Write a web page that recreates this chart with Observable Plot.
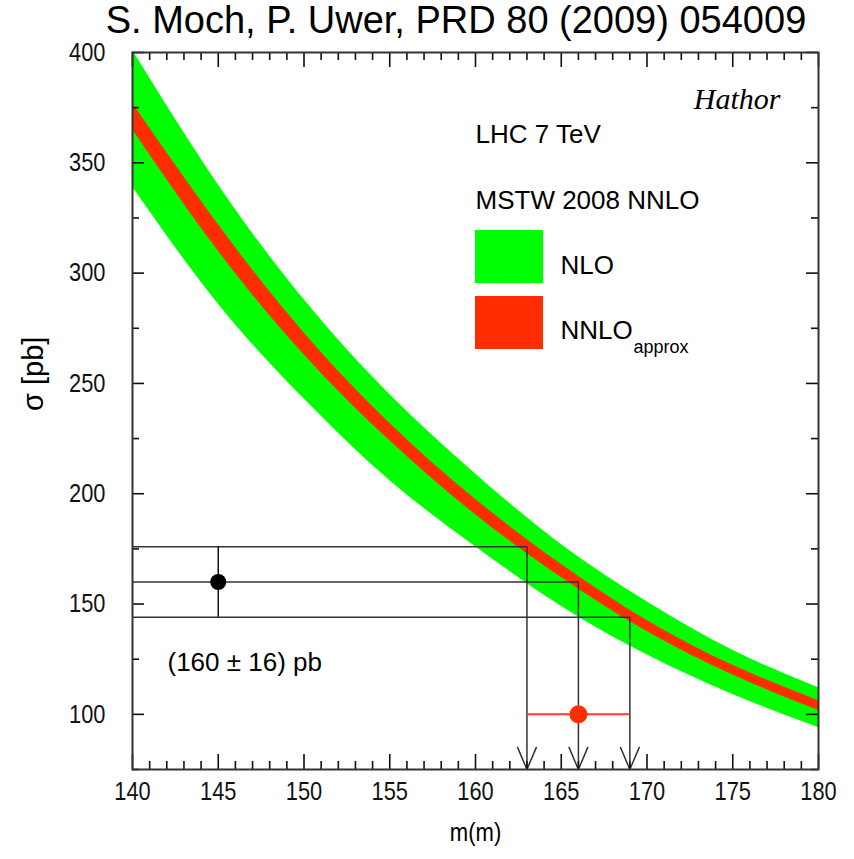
<!DOCTYPE html>
<html>
<head>
<meta charset="utf-8">
<script src="https://cdn.jsdelivr.net/npm/d3@7"></script>
<script src="https://cdn.jsdelivr.net/npm/@observablehq/plot@0.6"></script>
<style>
  html, body { margin: 0; padding: 0; background: #fff; }
  #title { width: 854px; box-sizing: border-box; padding-left: 58px; text-align: center; white-space: nowrap;
           font-family: "Liberation Sans", Arial, sans-serif; font-size: 38px; line-height: 40px; height: 36px; color: #000; }
  #chart svg { position: relative; }
</style>
</head>
<body>
<div id="title">S. Moch, P. Uwer, PRD 80 (2009) 054009</div>
<div id="chart"></div>
<script>
// ---- data ----
const mass      = [140, 145, 150, 155, 160, 165, 170, 175, 180];
const nnloMid   = [371, 316, 268, 228, 194, 165, 140, 120, 104];
const nnloLow   = [365, 310, 263, 224, 190.5, 162, 137.5, 117.8, 101.8];
const nnloHigh  = [377, 322, 273, 232, 197.5, 168, 142.5, 122.2, 106.2];
const nloLow    = [339, 286, 243, 206, 176, 149, 127, 109, 94];
const nloHigh   = [401, 340, 288, 245, 209, 177, 151, 129, 112];

const measSigma = 160, measErr = 16, measMass = 145;            // (160 ± 16) pb
const mtCentral = 166, mtLow = 163, mtHigh = 169, mtRowY = 100; // extracted mass
const xMajor = [140, 145, 150, 155, 160, 165, 170, 175, 180];
const yMajor = [100, 150, 200, 250, 300, 350, 400];
const yMinor = [75, 125, 175, 225, 275, 325, 375];
const legendLabels = ["NLO", "NNLO"];
const legendColors = ["#00ff00", "#ff2d00"];

// ---- derived tables ----
const rows = mass.map((m, i) => ({m, mid: nnloMid[i], nLo: nnloLow[i], nHi: nnloHigh[i], gLo: nloLow[i], gHi: nloHigh[i]}));
const xMinor = d3.range(140, 181, 1).filter(v => !xMajor.includes(v));
const crossings = [
  {m: mtLow,     s: measSigma + measErr},
  {m: mtCentral, s: measSigma},
  {m: mtHigh,    s: measSigma - measErr}
];

const xDom = [140, 180], yDom = [75, 400];
const W = 854, ML = 132, MR = 36, MT = 16, MB = 90, IH = 717, IW = W - ML - MR;
const H = MT + IH + MB;
const tickFont = "'Liberation Sans', Arial, sans-serif";
const textFont = "'Liberation Sans', Arial, sans-serif";
const lineCol = "#333";

// tick lengths (pixels) expressed in data units of the scales
const pxY = (yDom[1] - yDom[0]) / IH, pxX = (xDom[1] - xDom[0]) / IW;
const tickStyle = {stroke: "#111", strokeWidth: 1.6};
const xTicks = [
  ...xMajor.map(v => ({v, len: 15})),
  ...xMinor.map(v => ({v, len: 8}))
];
const yTicks = [
  ...yMajor.map(v => ({v, len: 12})),
  ...yMinor.map(v => ({v, len: 7}))
];

const legendBoxes = (index, scales, values, dims) => {
  const g = d3.create("svg:g");
  legendColors.forEach((c, i) => {
    g.append("rect")
      .attr("x", dims.marginLeft + 343).attr("y", dims.marginTop + 178 + i * 66)
      .attr("width", 68).attr("height", 53).attr("fill", c);
  });
  return g.node();
};

const chart = Plot.plot({
  width: W, height: H,
  marginLeft: ML, marginRight: MR, marginTop: MT, marginBottom: MB,
  style: {background: "transparent", fontFamily: textFont, color: "#000", overflow: "visible"},
  x: {domain: xDom},
  y: {domain: yDom},
  marks: [
    Plot.areaY(rows, {x: "m", y1: "gLo", y2: "gHi", fill: legendColors[0], curve: "natural", clip: true}),
    Plot.areaY(rows, {x: "m", y1: "nLo", y2: "nHi", fill: legendColors[1], curve: "natural", clip: true}),
    // measurement lines
    Plot.link(crossings, {x1: () => 140, x2: "m", y1: "s", y2: "s", stroke: lineCol, strokeWidth: 1.5}),
    Plot.arrow(crossings, {x1: "m", x2: "m", y1: "s", y2: () => 75, stroke: lineCol, strokeWidth: 1.5, headLength: 24, headAngle: 46}),
    Plot.ruleX([measMass], {y1: measSigma - measErr, y2: measSigma + measErr, stroke: "#111", strokeWidth: 1.5}),
    Plot.dot([measMass], {x: d => d, y: () => measSigma, r: 8, fill: "#000"}),
    Plot.ruleY([mtRowY], {x1: mtLow, x2: mtHigh, stroke: "#ff3b30", strokeWidth: 2}),
    Plot.dot([mtCentral], {x: d => d, y: () => mtRowY, r: 9, fill: "#ff2d00"}),
    // inward ticks on all four sides
    Plot.ruleX(xTicks, {x: "v", y1: () => yDom[0], y2: d => yDom[0] + d.len * pxY, ...tickStyle}),
    Plot.ruleX(xTicks, {x: "v", y1: () => yDom[1], y2: d => yDom[1] - d.len * pxY, ...tickStyle}),
    Plot.ruleY(yTicks, {y: "v", x1: () => xDom[0], x2: d => xDom[0] + d.len * pxX, ...tickStyle}),
    Plot.ruleY(yTicks, {y: "v", x1: () => xDom[1], x2: d => xDom[1] - d.len * pxX, ...tickStyle}),
    Plot.frame({stroke: "#333", strokeWidth: 2}),
    // axes labels
    Plot.axisX(xMajor, {tickSize: 0, tickPadding: 12, fontSize: 26, fontFamily: tickFont, label: null, fill: "#111"}),
    Plot.axisY(yMajor, {tickSize: 0, tickPadding: 27, fontSize: 26, fontFamily: tickFont, label: null, fill: "#111"}),
    Plot.text(["m(m)"], {frameAnchor: "bottom", dy: 63, lineAnchor: "middle", fontSize: 26, fontFamily: tickFont}),
    Plot.text(["σ [pb]"], {frameAnchor: "left", dx: -99, rotate: -90, fontSize: 29, fontFamily: tickFont}),
    // annotations
    Plot.text(["Hathor"], {frameAnchor: "top-right", dx: -38, dy: 56, textAnchor: "end", lineAnchor: "bottom",
                           fontSize: 30, fontStyle: "italic", fontFamily: "'Liberation Serif', 'Times New Roman', serif"}),
    Plot.text(["LHC 7 TeV"], {frameAnchor: "top-left", dx: 343, dy: 90, textAnchor: "start", lineAnchor: "bottom", fontSize: 26}),
    Plot.text(["MSTW 2008 NNLO"], {frameAnchor: "top-left", dx: 343, dy: 156, textAnchor: "start", lineAnchor: "bottom", fontSize: 26}),
    legendBoxes,
    Plot.text([legendLabels[0]], {frameAnchor: "top-left", dx: 428, dy: 221, textAnchor: "start", lineAnchor: "bottom", fontSize: 26}),
    Plot.text([legendLabels[1]], {frameAnchor: "top-left", dx: 428, dy: 286, textAnchor: "start", lineAnchor: "bottom", fontSize: 26}),
    Plot.text(["approx"], {frameAnchor: "top-left", dx: 501, dy: 300, textAnchor: "start", lineAnchor: "bottom", fontSize: 18}),
    Plot.text([`(${measSigma} ± ${measErr}) pb`], {frameAnchor: "top-left", dx: 35, dy: 618, textAnchor: "start", lineAnchor: "bottom", fontSize: 26})
  ]
});

// condensed look of the tick labels and axis title
d3.select(chart).selectAll('g[aria-label="x-axis tick label"] text, g[aria-label="y-axis tick label"] text')
  .attr("transform", function () { return (this.getAttribute("transform") || "") + " scale(0.84,1)"; });
d3.select(chart).selectAll("text").filter(function () { return this.textContent === "m(m)"; })
  .attr("transform", function () { return (this.getAttribute("transform") || "") + " scale(0.85,1)"; });
document.getElementById("chart").appendChild(chart);
</script>
</body>
</html>
